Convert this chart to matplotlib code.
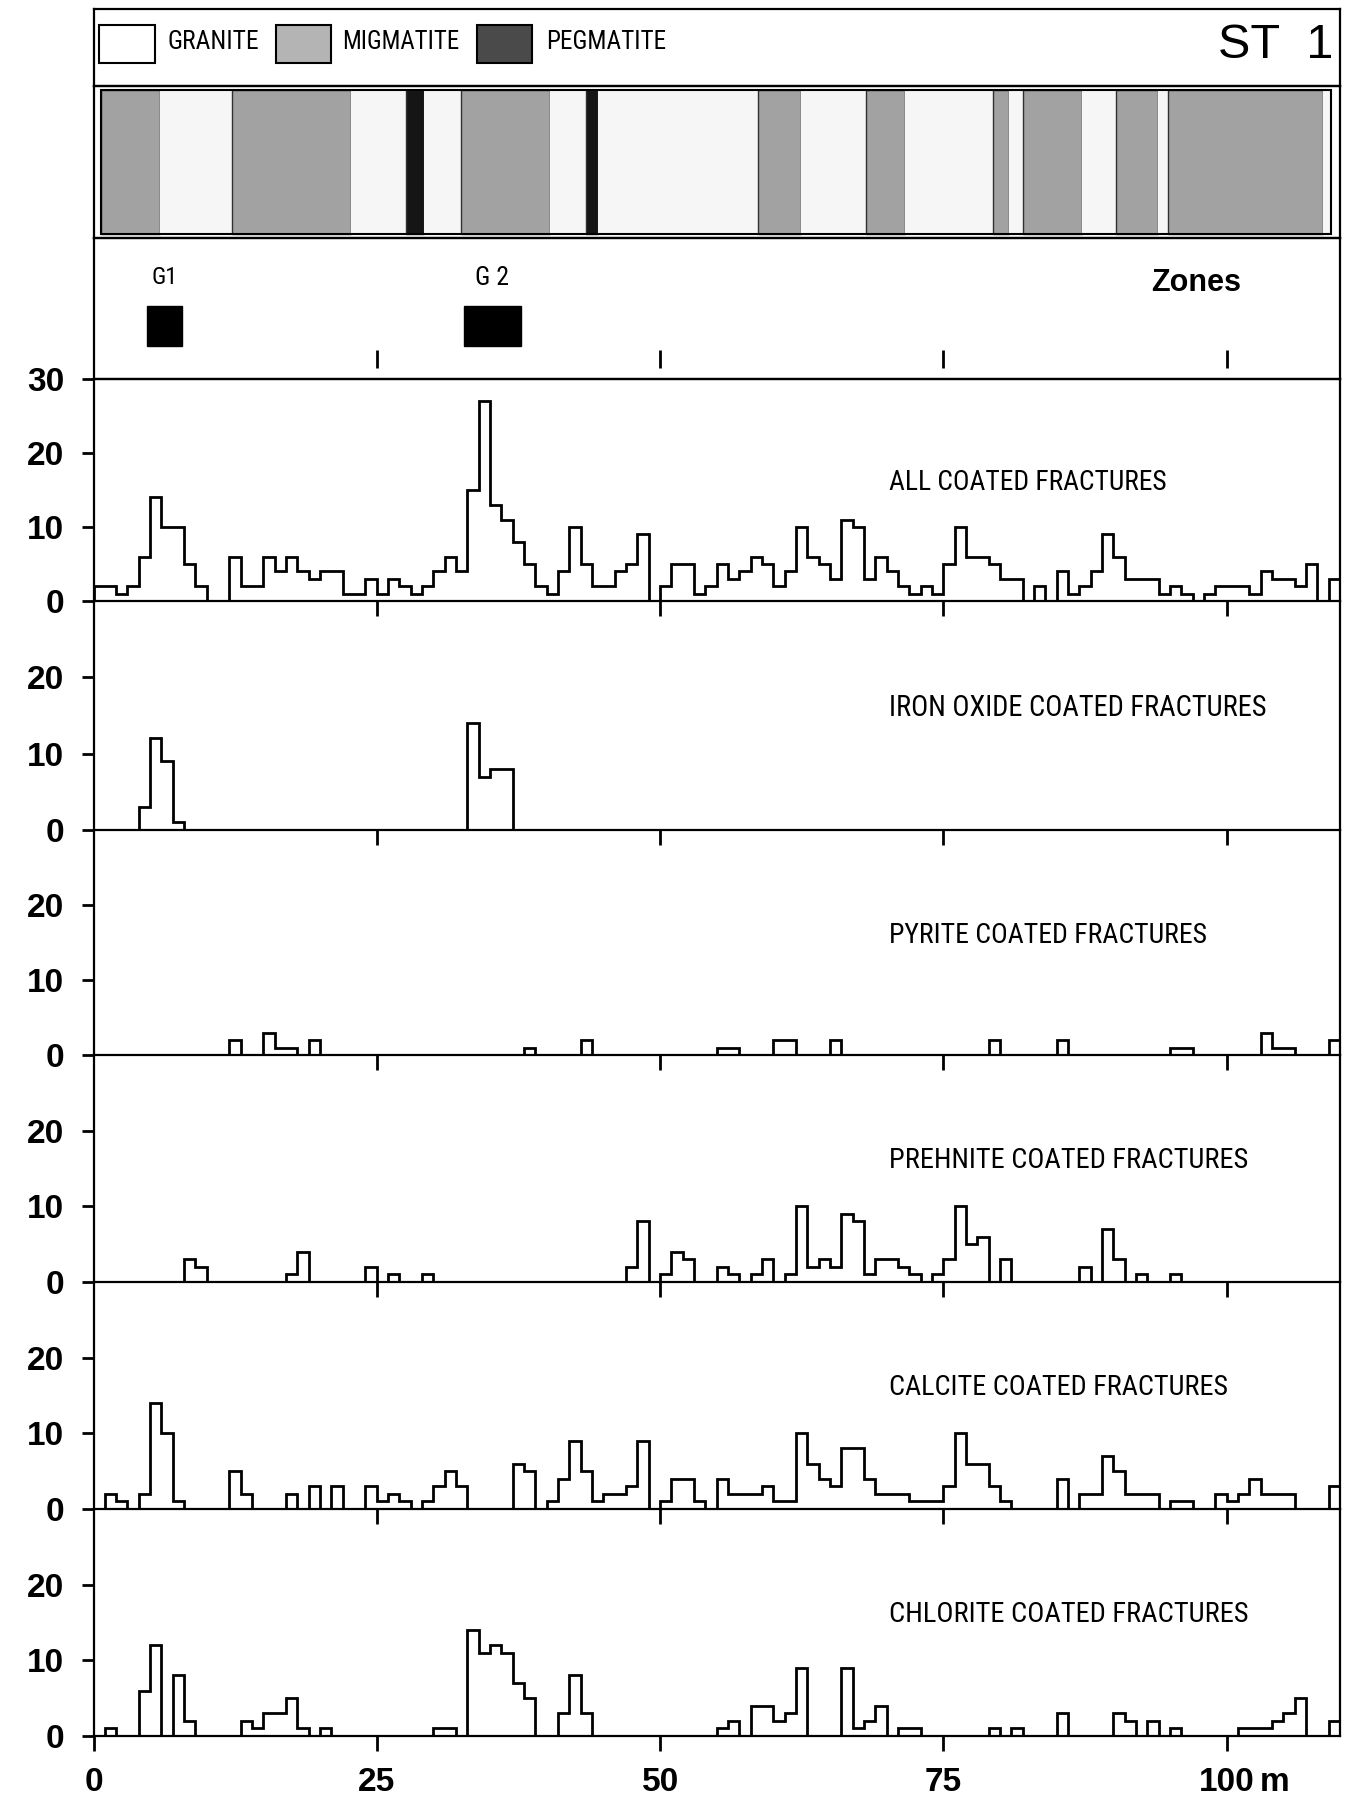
import numpy as np
import matplotlib
matplotlib.use("Agg")
import matplotlib.pyplot as plt
from matplotlib import font_manager as fm
from matplotlib.patches import Rectangle

# ---------------------------------------------------------------- data
bin_edges = np.arange(0, 111, 1)          # depth along borehole, 1 m bins, 0-110 m

all_coated = [2, 2, 1, 2, 6, 14, 10, 10, 5, 2,
              0, 0, 6, 2, 2, 6, 4, 6, 4, 3,
              4, 4, 1, 1, 3, 1, 3, 2, 1, 2,
              4, 6, 4, 15, 27, 13, 11, 8, 5, 2,
              1, 4, 10, 5, 2, 2, 4, 5, 9, 0,
              2, 5, 5, 1, 2, 5, 3, 4, 6, 5,
              2, 4, 10, 6, 5, 3, 11, 10, 3, 6,
              4, 2, 1, 2, 1, 5, 10, 6, 6, 5,
              3, 3, 0, 2, 0, 4, 1, 2, 4, 9,
              6, 3, 3, 3, 1, 2, 1, 0, 1, 2,
              2, 2, 1, 4, 3, 3, 2, 5, 0, 3]

iron_bins = [4, 5, 6, 7, 33, 34, 35, 36]
iron_counts = [3, 12, 9, 1, 14, 7, 8, 8]

pyrite_bins = [12, 15, 16, 17, 19, 38, 43, 55, 56, 60, 61, 65, 79, 85, 95, 96, 103, 104, 105, 109]
pyrite_counts = [2, 3, 1, 1, 2, 1, 2, 1, 1, 2, 2, 2, 2, 2, 1, 1, 3, 1, 1, 2]

prehnite_bins = [8, 9, 17, 18, 24, 26, 29, 47, 48, 50, 51, 52, 55, 56, 58, 59, 61, 62, 63, 64,
                 65, 66, 67, 68, 69, 70, 71, 72, 74, 75, 76, 77, 78, 80, 87, 89, 90, 92, 95]
prehnite_counts = [3, 2, 1, 4, 2, 1, 1, 2, 8, 1, 4, 3, 2, 1, 1, 3, 1, 10, 2, 3,
                   2, 9, 8, 1, 3, 3, 2, 1, 1, 3, 10, 5, 6, 3, 2, 7, 3, 1, 1]

calcite_bins = [1, 2, 4, 5, 6, 7, 12, 13, 17, 19, 21, 24, 25, 26, 27, 29, 30, 31, 32, 37,
                38, 40, 41, 42, 43, 44, 45, 46, 47, 48, 50, 51, 52, 53, 55, 56, 57, 58, 59, 60,
                61, 62, 63, 64, 65, 66, 67, 68, 69, 70, 71, 72, 73, 74, 75, 76, 77, 78, 79, 80,
                85, 87, 88, 89, 90, 91, 92, 93, 95, 96, 99, 100, 101, 102, 103, 104, 105, 109]
calcite_counts = [2, 1, 2, 14, 10, 1, 5, 2, 2, 3, 3, 3, 1, 2, 1, 1, 3, 5, 3, 6,
                  5, 1, 4, 9, 5, 1, 2, 2, 3, 9, 1, 4, 4, 1, 4, 2, 2, 2, 3, 1,
                  1, 10, 6, 4, 3, 8, 8, 4, 2, 2, 2, 1, 1, 1, 3, 10, 6, 6, 3, 1,
                  4, 2, 2, 7, 5, 2, 2, 2, 1, 1, 2, 1, 2, 4, 2, 2, 2, 3]

chlorite_bins = [1, 4, 5, 7, 8, 13, 14, 15, 16, 17, 18, 20, 30, 31, 33, 34, 35, 36, 37, 38,
                 41, 42, 43, 55, 56, 58, 59, 60, 61, 62, 66, 67, 68, 69, 71, 72, 79, 81, 85, 90,
                 91, 93, 95, 101, 102, 103, 104, 105, 106, 109]
chlorite_counts = [1, 6, 12, 8, 2, 2, 1, 3, 3, 5, 1, 1, 1, 1, 14, 11, 12, 11, 7, 5,
                   3, 8, 3, 1, 2, 4, 4, 2, 3, 9, 9, 1, 2, 4, 1, 1, 1, 1, 3, 3,
                   2, 2, 1, 1, 1, 1, 2, 3, 5, 2]

panel_titles = ["ALL COATED FRACTURES", "IRON OXIDE COATED FRACTURES",
                "PYRITE COATED FRACTURES", "PREHNITE COATED FRACTURES",
                "CALCITE COATED FRACTURES", "CHLORITE COATED FRACTURES"]

# lithology along the borehole (m)
litho_start = [0.7, 5.9, 12.2, 22.7, 27.6, 29.2, 32.4, 40.3, 43.5, 44.5, 58.6,
               62.4, 68.2, 71.6, 79.4, 80.8, 82.0, 87.2, 90.2, 93.9, 94.8, 108.5]
litho_end = litho_start[1:] + [109.2]
litho_type = ["MIGMATITE", "GRANITE", "MIGMATITE", "GRANITE", "PEGMATITE", "GRANITE",
              "MIGMATITE", "GRANITE", "PEGMATITE", "GRANITE", "MIGMATITE", "GRANITE",
              "MIGMATITE", "GRANITE", "MIGMATITE", "GRANITE", "MIGMATITE", "GRANITE",
              "MIGMATITE", "GRANITE", "MIGMATITE", "GRANITE"]
legend_names = ["GRANITE", "MIGMATITE", "PEGMATITE"]

zone_names = ["G1", "G 2"]
zone_start = [4.7, 32.7]
zone_end = [7.8, 37.7]
zone_marks = [25, 50, 75, 100]

x_ticks = [0, 25, 50, 75, 100]
x_ticklabels = ["0", "25", "50", "75", "100"]
y_ticks = [0, 10, 20, 30]


def dense(bins, counts):
    arr = np.zeros(len(bin_edges) - 1)
    arr[np.asarray(bins)] = counts
    return arr


series = [np.asarray(all_coated, float), dense(iron_bins, iron_counts),
          dense(pyrite_bins, pyrite_counts), dense(prehnite_bins, prehnite_counts),
          dense(calcite_bins, calcite_counts), dense(chlorite_bins, chlorite_counts)]

# ---------------------------------------------------------------- fonts
names = {f.name for f in fm.fontManager.ttflist}
narrow_fp = None
for nm in ["Liberation Sans Narrow", "Roboto Condensed", "Open Sans Condensed",
           "DejaVu Sans Condensed"]:
    if nm in names:
        narrow_fp = fm.FontProperties(family=nm)
        break
if narrow_fp is None:
    cands = [f for f in fm.fontManager.ttflist
             if f.name == "DejaVu Sans" and "Condensed" in f.fname
             and "Bold" not in f.fname and "Oblique" not in f.fname]
    if cands:
        narrow_fp = fm.FontProperties(fname=cands[0].fname)
    else:
        narrow_fp = fm.FontProperties(family="Roboto" if "Roboto" in names else "DejaVu Sans")

SANS = "Liberation Sans" if "Liberation Sans" in names else "DejaVu Sans"
NUM_FONT = dict(family=SANS, weight="bold", size=24)

# ---------------------------------------------------------------- layout
W, H, DPI = 1354, 1803, 100
fig = plt.figure(figsize=(W / DPI, H / DPI), dpi=DPI)
fig.patch.set_facecolor("white")
renderer = fig.canvas.get_renderer()

X0, X1 = 93.5, 1340.0
LW = 1.6


def add_ax(top, bottom):
    ax = fig.add_axes([X0 / W, 1 - bottom / H, (X1 - X0) / W, (bottom - top) / H])
    ax.set_facecolor("none")
    ax.set_xlim(0, 110)
    for s in ax.spines.values():
        s.set_linewidth(LW)
    return ax


def fit_text(ax, x, y, s, width_px, fp, **kw):
    t = ax.text(x, y, s, fontproperties=fp.copy(), **kw)
    t.set_fontsize(20)
    w = t.get_window_extent(renderer=renderer).width
    t.set_fontsize(20 * width_px / w)
    return t


# legend row
ax_leg = add_ax(9, 86)
ax_leg.set_ylim(0, 77)
ax_leg.set_xticks([]); ax_leg.set_yticks([])
leg_colors = {"GRANITE": "white", "MIGMATITE": "#b4b4b4", "PEGMATITE": "#4a4a4a"}
leg_box_x = [0.5, 16.1, 33.8]
leg_text_x = [6.5, 21.9, 39.9]
leg_text_w = [92, 117, 120]
for name, bx, tx, tw in zip(legend_names, leg_box_x, leg_text_x, leg_text_w):
    ax_leg.add_patch(Rectangle((bx, 23), 4.9, 38, facecolor=leg_colors[name],
                               edgecolor="black", lw=1.5))
    fit_text(ax_leg, tx, 44, name, tw, narrow_fp, ha="left", va="center")
ax_leg.text(109.4, 40, "ST  1", ha="right", va="center", fontsize=35, family=SANS)

# lithology strip
ax_lit = add_ax(86, 238)
ax_lit.set_ylim(0, 152)
ax_lit.set_xticks([]); ax_lit.set_yticks([])
lit_colors = {"GRANITE": "#f6f6f6", "MIGMATITE": "#a2a2a2", "PEGMATITE": "#151515"}
for s0, s1, tp in zip(litho_start, litho_end, litho_type):
    ax_lit.add_patch(Rectangle((s0, 4), s1 - s0, 144, facecolor=lit_colors[tp],
                               edgecolor="#303030" if tp != "GRANITE" else "none", lw=1.0))
ax_lit.add_patch(Rectangle((litho_start[0], 4), litho_end[-1] - litho_start[0], 144,
                           facecolor="none", edgecolor="black", lw=1.5))

# zones
ax_zon = add_ax(238, 379)
ax_zon.set_ylim(0, 141)
ax_zon.set_xticks([]); ax_zon.set_yticks([])
for nm, z0, z1 in zip(zone_names, zone_start, zone_end):
    ax_zon.add_patch(Rectangle((z0, 33), z1 - z0, 40, facecolor="black", edgecolor="black"))
    fit_text(ax_zon, (z0 + z1) / 2, 101, nm, 26 if nm == "G1" else 34, narrow_fp,
             ha="center", va="center")
ax_zon.vlines(zone_marks, 11, 29, color="black", lw=2.0)
fit_text(ax_zon, 97.3, 96, "Zones", 90, fm.FontProperties(family=SANS, weight="bold"),
         ha="center", va="center")

# panels
panel_bounds = [(379, 601), (601, 830), (830, 1055), (1055, 1282), (1282, 1509), (1509, 1736)]
title_widths = [278, 379, 318, 359, 340, 360]
for i, ((top, bot), counts, title, tw) in enumerate(zip(panel_bounds, series,
                                                        panel_titles, title_widths)):
    ax = add_ax(top, bot)
    ax.set_ylim(0, 30)
    ax.stairs(counts, bin_edges, baseline=0, color="black", lw=2.0)
    ax.spines["top"].set_visible(i == 0)
    yt = y_ticks if i == 0 else y_ticks[:3]
    ax.set_yticks(yt)
    ax.set_yticklabels([str(v) for v in yt], **NUM_FONT)
    ax.tick_params(axis="y", direction="out", length=9, width=2.0, pad=12)
    last = i == len(panel_bounds) - 1
    if last:
        ax.set_xticks(x_ticks)
        ax.set_xticklabels(x_ticklabels, **NUM_FONT)
        ax.text(102.9, -6.1, "m", ha="left", va="center", **NUM_FONT)
    else:
        ax.set_xticks(x_ticks[1:])
        ax.set_xticklabels([])
    ax.tick_params(axis="x", direction="out", length=11, width=2.0, pad=11)
    fit_text(ax, 70.2, 16, title, tw, narrow_fp, ha="left", va="center")

fig.savefig("out.png", dpi=DPI, facecolor="white")
